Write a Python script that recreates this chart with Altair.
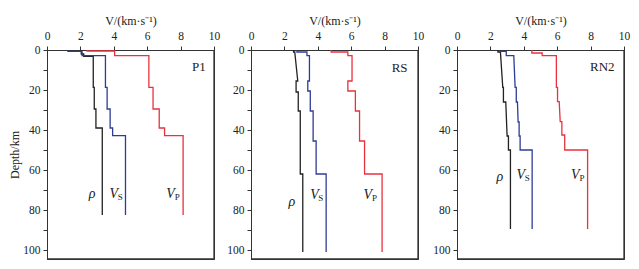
import altair as alt
import pandas as pd

FONT = "Liberation Serif"

# ---- P1 ----
p1_rho_d = [0, 2, 2, 3.2, 3.2, 18.7, 18.7, 29.5, 29.5, 39, 39, 82.5]
p1_rho_v = [2.05, 2.05, 2.2, 2.2, 2.77, 2.77, 2.83, 2.83, 2.93, 2.93, 3.31, 3.31]
p1_vs_d = [0, 0.7, 0.7, 2.8, 2.8, 18.7, 18.7, 29.5, 29.5, 39, 39, 42.8, 42.8, 82.5]
p1_vs_v = [1.25, 1.25, 2.1, 2.1, 3.5, 3.5, 3.6, 3.6, 3.78, 3.78, 3.93, 3.93, 4.7, 4.7]
p1_vp_d = [0, 0.5, 0.5, 2.8, 2.8, 18.7, 18.7, 29.5, 29.5, 39, 39, 42.8, 42.8, 82.5]
p1_vp_v = [2.4, 2.4, 4.05, 4.05, 6.1, 6.1, 6.35, 6.35, 6.72, 6.72, 7.04, 7.04, 8.15, 8.15]

# ---- RS ----
rs_rho_d = [0, 1, 1, 15.5, 15.5, 21, 21, 30.5, 30.5, 62, 62, 101]
rs_rho_v = [2.55, 2.55, 2.62, 2.8, 2.7, 2.7, 2.83, 2.83, 2.95, 2.95, 3.1, 3.1]
rs_vs_d = [0, 1, 1, 2.8, 2.8, 15.5, 15.5, 20.5, 20.5, 30.5, 30.5, 45.5, 45.5, 62, 62, 101]
rs_vs_v = [2.75, 2.75, 3.35, 3.35, 3.5, 3.5, 3.4, 3.4, 3.55, 3.55, 3.72, 3.72, 3.9, 3.9, 4.5, 4.5]
rs_vp_d = [0, 1, 1, 2.8, 2.8, 15.5, 15.5, 20.5, 20.5, 30.5, 30.5, 45.5, 45.5, 62, 62, 101]
rs_vp_v = [4.8, 4.8, 5.8, 5.8, 6.05, 6.05, 5.8, 5.8, 6.25, 6.25, 6.5, 6.5, 6.8, 6.8, 7.85, 7.85]

# ---- RN2 ----
rn_rho_d = [0, 1, 1, 18.7, 18.7, 26, 26, 43, 43, 50, 50, 89.5]
rn_rho_v = [2.45, 2.45, 2.6, 2.74, 2.78, 2.78, 2.92, 3.0, 3.08, 3.08, 3.2, 3.2]
rn_vs_d = [0, 0.7, 0.7, 2.8, 2.8, 18.7, 18.7, 26, 26, 36, 36, 43, 43, 50, 50, 89.5]
rn_vs_v = [2.55, 2.55, 2.95, 2.95, 3.4, 3.48, 3.55, 3.55, 3.62, 3.66, 3.72, 3.72, 3.78, 3.78, 4.5, 4.5]
rn_vp_d = [0, 1.5, 1.5, 2.8, 2.8, 18.7, 18.7, 25.8, 25.8, 35.8, 35.8, 42.5, 42.5, 50, 50, 89.5]
rn_vp_v = [4.48, 4.48, 5.1, 5.1, 5.95, 5.95, 6.02, 6.02, 6.12, 6.18, 6.28, 6.28, 6.45, 6.45, 7.82, 7.82]

panel_names = ["P1", "RS", "RN2"]
panel_label_pos = [(9.1, 8.7), (8.9, 9.0), (8.7, 8.5)]
# label anchors: (rho_x, rho_y, vs_x, vs_y, vp_x, vp_y)
label_pos = [
    (2.7, 72, 4.0, 72, 7.4, 72),
    (2.45, 76, 3.8, 72.5, 7.0, 72.5),
    (2.57, 63.5, 3.82, 62.5, 7.09, 62.5),
]
profiles = [
    [(p1_rho_d, p1_rho_v), (p1_vs_d, p1_vs_v), (p1_vp_d, p1_vp_v)],
    [(rs_rho_d, rs_rho_v), (rs_vs_d, rs_vs_v), (rs_vp_d, rs_vp_v)],
    [(rn_rho_d, rn_rho_v), (rn_vs_d, rn_vs_v), (rn_vp_d, rn_vp_v)],
]
series = ["rho", "Vs", "Vp"]
colors = ["#222222", "#2f3c96", "#e8323e"]

X_MAX = 10
D_MAX = 104.5
W, H = 167, 209


def panel(i):
    rows = []
    for s, (d, v) in zip(series, profiles[i]):
        for k, (dd, vv) in enumerate(zip(d, v)):
            rows.append({"depth": dd, "v": vv, "series": s, "order": k})
    # right and bottom borders of the plot frame, drawn as extra line series
    for k, (dd, vv) in enumerate([(0, X_MAX), (D_MAX, X_MAX), (D_MAX, 0)]):
        rows.append({"depth": dd, "v": vv, "series": "frame", "order": k})
    df = pd.DataFrame(rows)
    first = i == 0
    xaxis = alt.Axis(orient="top", values=[0, 2, 4, 6, 8, 10], title="V/(km·s⁻¹)",
                     grid=False, tickSize=4, labelPadding=5, titlePadding=3,
                     labelOverlap=False, labelFlush=False, format="d")
    yaxis = alt.Axis(orient="left", values=list(range(0, 101, 10)),
                     labelExpr="datum.value % 20 == 0 ? datum.label : ''",
                     title="Depth/km" if first else None, grid=False,
                     tickSize=4, labelPadding=3, titlePadding=1,
                     labelOverlap=False, labelFlush=False)
    x = alt.X("v:Q", scale=alt.Scale(domain=[0, X_MAX], nice=False), axis=xaxis)
    y = alt.Y("depth:Q", scale=alt.Scale(domain=[0, D_MAX], reverse=True, nice=False, zero=False), axis=yaxis)

    lines = alt.Chart(df).mark_line(strokeWidth=1.3).encode(
        x=x, y=y, order="order:Q",
        color=alt.Color("series:N",
                        scale=alt.Scale(domain=series + ["frame"], range=colors + ["#333333"]),
                        legend=None),
        detail="series:N",
    )
    lp = label_pos[i]
    ital = pd.DataFrame({"v": [lp[0], lp[2], lp[4]], "depth": [lp[1], lp[3], lp[5]],
                         "t": ["ρ", "V", "V"]})
    subs = pd.DataFrame({"v": [lp[2] + 0.38, lp[4] + 0.4], "depth": [lp[3], lp[5]],
                         "t": ["S", "P"]})
    pl = pd.DataFrame({"v": [panel_label_pos[i][0]], "depth": [panel_label_pos[i][1]],
                       "t": [panel_names[i]]})
    t1 = alt.Chart(ital).mark_text(font=FONT, fontStyle="italic", fontSize=14,
                                   color="#222", baseline="middle").encode(
        x=x, y=y, text="t:N")
    t2 = alt.Chart(subs).mark_text(font=FONT, fontSize=9, color="#222",
                                   baseline="middle", dy=3).encode(
        x=x, y=y, text="t:N")
    t3 = alt.Chart(pl).mark_text(font=FONT, fontSize=13, color="#222",
                                 baseline="middle").encode(
        x=x, y=y, text="t:N")
    return alt.layer(lines, t1, t2, t3).properties(width=W, height=H)


chart = alt.hconcat(
    alt.hconcat(panel(0), panel(1), spacing=5),
    panel(2), spacing=7,
).configure_view(
    stroke="#333", strokeWidth=1
).configure_axis(
    labelFont=FONT, titleFont=FONT, labelFontSize=11.5, titleFontSize=12,
    titleFontWeight="normal", domainColor="#333", tickColor="#333",
    labelColor="#222", titleColor="#222", domainWidth=1
).properties(padding={"left": 0, "top": 5, "right": 0, "bottom": 0})

chart.save("out.html", embed_options={"renderer": "svg", "actions": False})
